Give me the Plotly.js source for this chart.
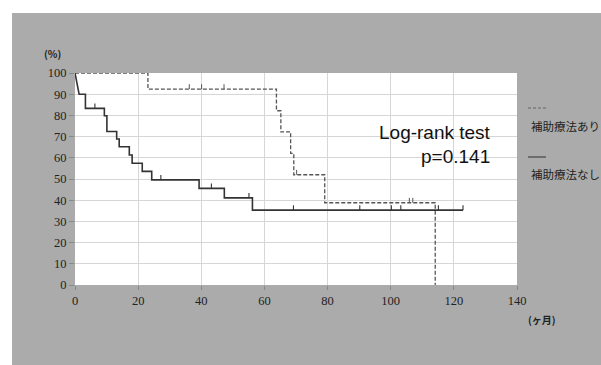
<!DOCTYPE html>
<html>
<head>
<meta charset="utf-8">
<script src="https://cdn.plot.ly/plotly-3.0.1.min.js"></script>
<style>
  html, body { margin: 0; padding: 0; background: #ffffff; width: 601px; height: 365px; overflow: hidden; }
  #chart { position: absolute; left: 12px; top: 13px; width: 589px; height: 352px; }
</style>
</head>
<body>
<div id="chart"></div>
<script>
// ---- Data ----
// 補助療法なし (solid)
const noAdjTimes = [1.3, 3.3, 9.3, 10.1, 13.2, 14.0, 17.2, 18.1, 21.3, 24.3, 39.3, 47.3, 56.2];
const noAdjSurv  = [90.0, 83.3, 79.8, 72.4, 68.9, 65.2, 61.3, 57.4, 53.6, 49.6, 45.6, 41.1, 35.3];
const noAdjCensor = [6.3, 27.2, 43.2, 55.1, 69.2, 90.2, 100.2, 103.2, 115.1, 122.9];
const noAdjEnd = 122.9;

// 補助療法あり (dashed)
const adjTimes = [23.1, 63.8, 65.2, 68.3, 69.3, 79.1, 114.1];
const adjSurv  = [92.4, 82.2, 72.2, 62.1, 52.0, 38.8, 0];
const adjCensor = [36.2, 40.1, 47.2, 70.2, 105.9, 107.0];
const adjEnd = 114.1;

const xTicks = [0, 20, 40, 60, 80, 100, 120, 140];
const yTicks = [0, 10, 20, 30, 40, 50, 60, 70, 80, 90, 100];

const seriesNames = ['補助療法あり', '補助療法なし'];
const annotationLines = ['Log-rank test', 'p=0.141'];

// ---- Helpers ----
function stepXY(times, surv, endT, slantFirst) {
  const x = [0], y = [100];
  let prev = 100;
  times.forEach((t, i) => {
    if (!(slantFirst && i === 0)) { x.push(t); y.push(prev); }
    x.push(t); y.push(surv[i]);
    prev = surv[i];
  });
  if (endT > x[x.length - 1]) { x.push(endT); y.push(prev); }
  return {x, y};
}
function levelAt(times, surv, t) {
  let s = 100;
  times.forEach((tt, i) => { if (tt <= t) s = surv[i]; });
  return s;
}
function censorXY(times, surv, cens, h) {
  const x = [], y = [];
  cens.forEach(t => {
    const s = levelAt(times, surv, t);
    x.push(t, t, null); y.push(s, s + h, null);
  });
  return {x, y};
}

const solid = stepXY(noAdjTimes, noAdjSurv, noAdjEnd, true);
const dashed = stepXY(adjTimes, adjSurv, adjEnd, false);
const solidC = censorXY(noAdjTimes, noAdjSurv, noAdjCensor, 2.3);
const dashedC = censorXY(adjTimes, adjSurv, adjCensor, 2.3);

const solidColor = '#333333';
const dashColor = '#555555';

const traces = [
  {x: dashed.x, y: dashed.y, mode: 'lines', line: {color: dashColor, width: 1.3, dash: '4px,2px'}, name: seriesNames[0], hoverinfo: 'skip'},
  {x: dashedC.x, y: dashedC.y, mode: 'lines', line: {color: dashColor, width: 1}, hoverinfo: 'skip'},
  {x: solid.x, y: solid.y, mode: 'lines', line: {color: solidColor, width: 1.6}, name: seriesNames[1], hoverinfo: 'skip'},
  {x: solidC.x, y: solidC.y, mode: 'lines', line: {color: solidColor, width: 1.1}, hoverinfo: 'skip'}
];

// pixel -> paper helpers (plot area: x 75..517, y 73..285 in page pixels)
const px = p => (p - 75) / 442;
const py = p => (285 - p) / 212;

const serif = 'Liberation Serif';
const cjk = 'Noto Sans CJK JP';

const layout = {
  width: 589, height: 352,
  margin: {l: 63, r: 84, t: 60, b: 80, pad: 0},
  paper_bgcolor: '#ababab',
  plot_bgcolor: '#ffffff',
  showlegend: false,
  font: {family: serif, size: 12, color: '#222222'},
  xaxis: {
    range: [0, 140], tickvals: xTicks, ticktext: xTicks.map(String),
    showgrid: true, gridcolor: '#d6d6d6', gridwidth: 1,
    zeroline: false, showline: false,
    ticks: 'outside', ticklen: 4, tickcolor: '#888888', tickwidth: 1,
    tickfont: {family: serif, size: 12.5, color: '#222222'}, fixedrange: true
  },
  yaxis: {
    range: [0, 100], tickvals: yTicks, ticktext: yTicks.map(String),
    showgrid: true, gridcolor: '#d6d6d6', gridwidth: 1,
    zeroline: false, showline: false,
    ticks: 'outside', ticklen: 5, tickcolor: '#888888', tickwidth: 1,
    tickfont: {family: serif, size: 12.5, color: '#222222'}, fixedrange: true
  },
  annotations: [
    {text: '<b>(%)</b>', xref: 'paper', yref: 'paper', x: px(52), y: py(53), xanchor: 'center', yanchor: 'middle', showarrow: false, font: {family: cjk, size: 10, color: '#222'}},
    {text: '<b>(ヶ月)</b>', xref: 'paper', yref: 'paper', x: px(542), y: py(319), xanchor: 'center', yanchor: 'middle', showarrow: false, font: {family: cjk, size: 10, color: '#222'}},
    {text: annotationLines[0], xref: 'paper', yref: 'paper', x: px(493), y: py(132), xanchor: 'right', yanchor: 'middle', showarrow: false, font: {family: 'Liberation Sans', size: 19, color: '#111'}},
    {text: annotationLines[1], xref: 'paper', yref: 'paper', x: px(492), y: py(156), xanchor: 'right', yanchor: 'middle', showarrow: false, font: {family: 'Liberation Sans', size: 19, color: '#111'}},
    {text: seriesNames[0], xref: 'paper', yref: 'paper', x: px(529), y: py(126), xanchor: 'left', yanchor: 'middle', showarrow: false, font: {family: cjk, size: 11.5, color: '#222'}},
    {text: seriesNames[1], xref: 'paper', yref: 'paper', x: px(529), y: py(173.5), xanchor: 'left', yanchor: 'middle', showarrow: false, font: {family: cjk, size: 11.5, color: '#222'}}
  ],
  shapes: [
    {type: 'line', xref: 'paper', yref: 'paper', x0: px(528), x1: px(546), y0: py(108), y1: py(108), line: {color: '#666', width: 1, dash: '3px,2px'}},
    {type: 'line', xref: 'paper', yref: 'paper', x0: px(528), x1: px(546), y0: py(157), y1: py(157), line: {color: '#444', width: 1.2}}
  ]
};

Plotly.newPlot('chart', traces, layout, {displayModeBar: false, staticPlot: true});
</script>
</body>
</html>
